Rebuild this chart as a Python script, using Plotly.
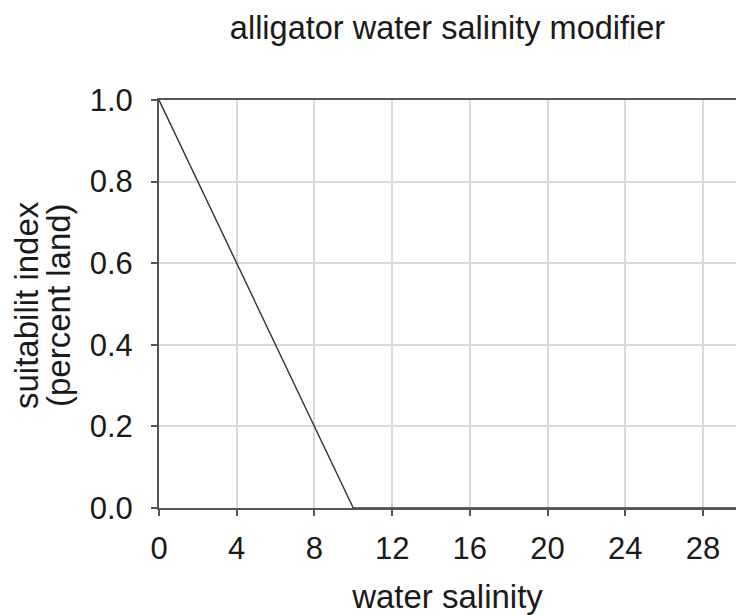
# Alligator water salinity modifier curve
import plotly.graph_objects as go

# Data
salinity = [0, 10, 30]
suitability = [1.0, 0.0, 0.0]

x_ticks = [0, 4, 8, 12, 16, 20, 24, 28]
y_ticks = [0.0, 0.2, 0.4, 0.6, 0.8, 1.0]
y_title_lines = ["suitabilit index", "(percent land)"]

font_family = "Liberation Sans, Arial, sans-serif"
text_color = "#1a1a1a"

fig = go.Figure(data=go.Scatter(
    x=salinity,
    y=suitability,
    mode="lines",
    line=dict(color="#333333", width=1.4),
    cliponaxis=False,
    showlegend=False,
))

# plot area spans x 159..736, y 100..508 in pixels
left, width = 159, 577
top, height = 100, 408

fig.update_layout(
    width=736,
    height=615,
    margin=dict(l=left, r=0, t=top, b=615 - top - height),
    paper_bgcolor="white",
    plot_bgcolor="white",
    font=dict(family=font_family, size=31, color=text_color),
    title=dict(
        text="alligator water salinity modifier",
        x=0.5,
        xref="paper",
        xanchor="center",
        y=1 - 28 / 615,
        yanchor="middle",
        font=dict(size=32.5, color=text_color),
    ),
    xaxis=dict(
        range=[0, 29.7],
        tickvals=x_ticks,
        ticks="outside",
        ticklen=6,
        tickwidth=1.5,
        tickcolor="#555555",
        showline=True,
        linecolor="#555555",
        linewidth=2,
        mirror=True,
        showgrid=True,
        gridcolor="#d9d9d9",
        gridwidth=1.5,
        zeroline=False,
        automargin=False,
        ticklabelstandoff=6,
        tickfont=dict(size=31),
        title=dict(text="water salinity", standoff=20, font=dict(size=33)),
    ),
    yaxis=dict(
        range=[0, 1],
        tickvals=y_ticks,
        tickformat=".1f",
        ticks="outside",
        ticklen=6,
        tickwidth=1.5,
        tickcolor="#555555",
        showline=True,
        linecolor="#555555",
        linewidth=2,
        showgrid=True,
        gridcolor="#d9d9d9",
        gridwidth=1.5,
        zeroline=False,
        automargin=False,
        ticklabelstandoff=12,
        tickfont=dict(size=31),
    ),
)

# two-line rotated y title, drawn as annotations for tighter line spacing
for line_text, px in zip(y_title_lines, [26, 58]):
    fig.add_annotation(
        text=line_text,
        xref="paper",
        yref="paper",
        x=(px - left) / width,
        y=1 - (305 - top) / height,
        xanchor="center",
        yanchor="middle",
        textangle=-90,
        showarrow=False,
        font=dict(size=33, color=text_color),
    )

# drop the browser's default body margin so the figure sits at the page corner
fig.write_html(
    "out.html",
    config={"displayModeBar": False},
    post_script="document.body.style.margin='0';",
)
